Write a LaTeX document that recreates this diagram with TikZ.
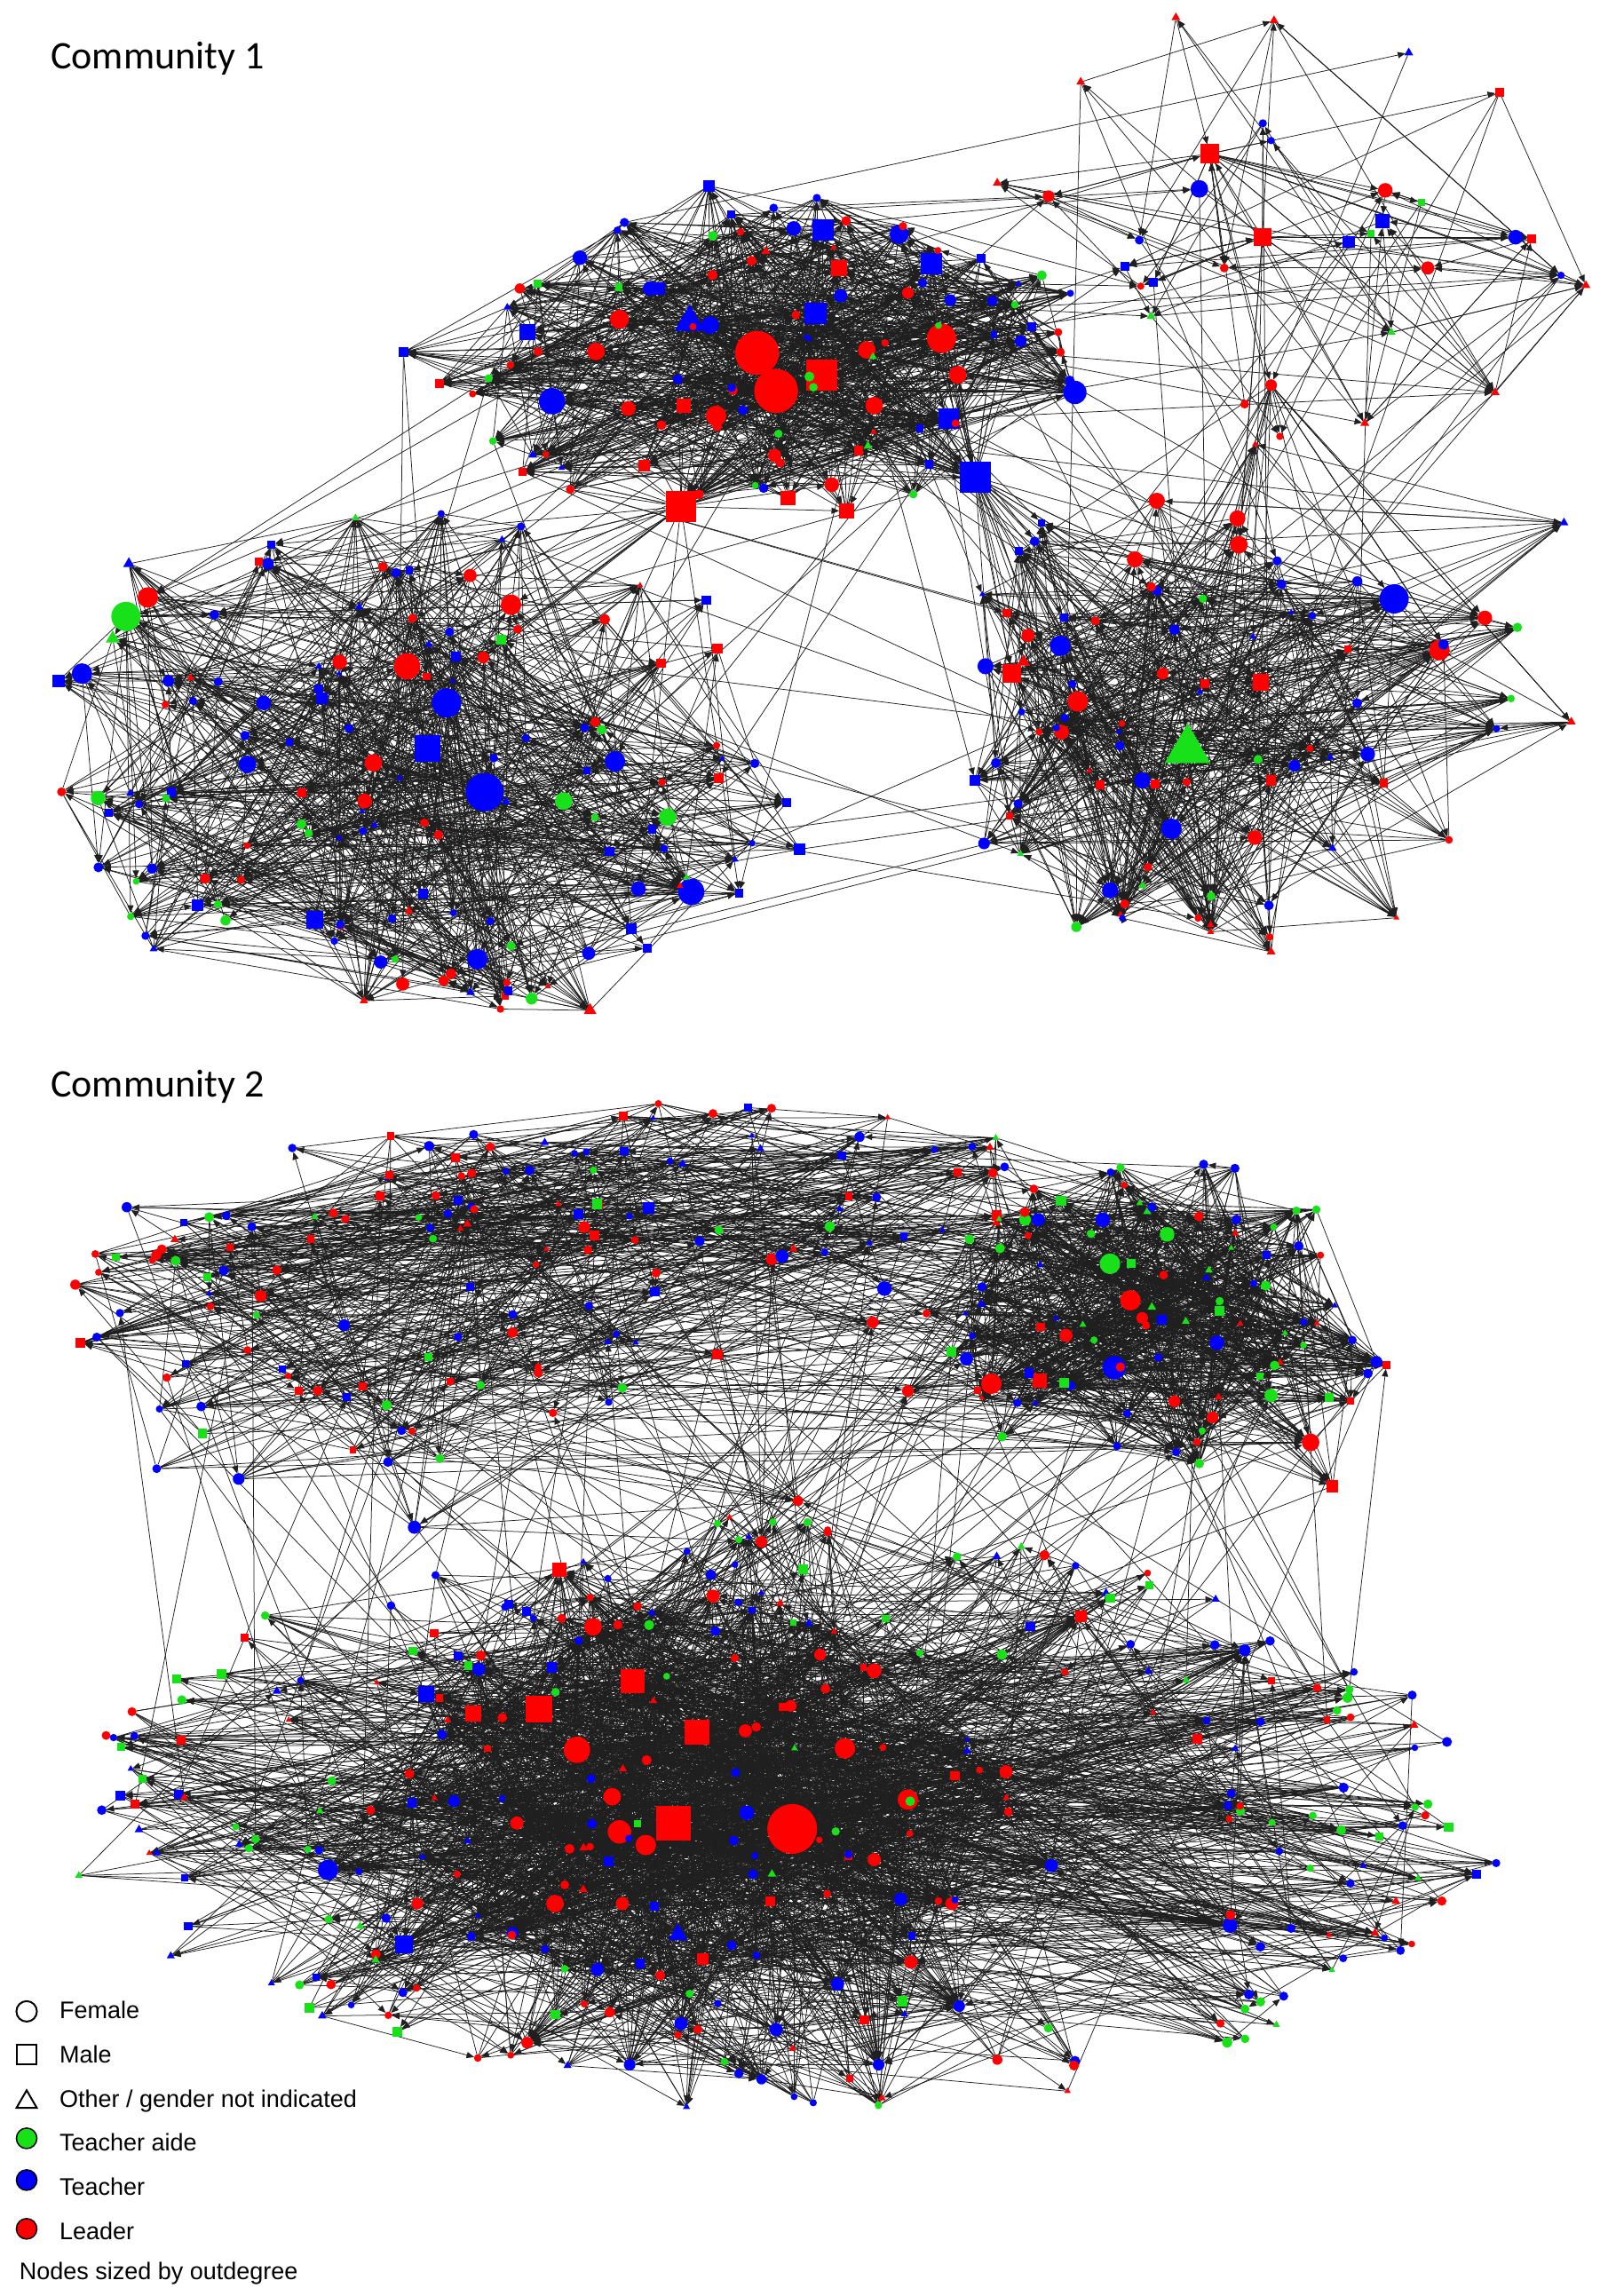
\documentclass[tikz,border=0pt]{standalone}
\usepackage{fontspec}
\setmainfont{Liberation Sans}
\newfontfamily\carlfont{Carlito}
\usetikzlibrary{shapes.geometric,arrows.meta}
\definecolor{nred}{RGB}{255,0,0}
\definecolor{nblue}{RGB}{0,0,255}
\definecolor{ngreen}{RGB}{25,225,25}
\pgfdeclarelayer{fg}
\pgfsetlayers{main,fg}
\pgfmathdeclarerandomlist{shapes}{{shc}{shc}{shc}{shc}{shc}{shs}{shs}{sht}{sht}}
\pgfmathdeclarerandomlist{colT}{{nred}{nred}{nred}{nblue}{nblue}{nblue}{nred}{ngreen}}
\pgfmathdeclarerandomlist{colR}{{nred}{nred}{nred}{nblue}{nblue}{ngreen}}
\pgfmathdeclarerandomlist{colL}{{nblue}{nblue}{nblue}{nblue}{nred}{nred}{ngreen}{ngreen}}
\pgfmathdeclarerandomlist{colD}{{nred}{nred}{nblue}{nblue}{nblue}{nred}{ngreen}}
\pgfmathdeclarerandomlist{colU}{{nblue}{nblue}{nred}{nred}{nred}{ngreen}{nblue}}
\pgfmathdeclarerandomlist{colS}{{nred}{nred}{nblue}{nblue}{ngreen}{ngreen}}
\pgfmathdeclarerandomlist{colB}{{nred}{nred}{nred}{nred}{nblue}{nblue}{nblue}{ngreen}}
\pgfmathdeclarerandomlist{colO}{{nblue}{nblue}{nblue}{nred}{nred}{ngreen}{ngreen}}
\tikzset{
  nd/.style={inner sep=0pt,outer sep=0pt,draw=none},
  shc/.style={shape=circle},
  shs/.style={shape=rectangle},
  sht/.style={shape=regular polygon,regular polygon sides=3},
  ed/.style={-{Triangle[length=8.5pt,width=7pt]}},
  edgescope/.style={color=black!88,line width=0.75pt},
  lgsym/.style={draw=black,line width=2pt,inner sep=0pt,minimum size=14*1.649pt},
  lgtxt/.style={anchor=base west,inner sep=0pt,font=\fontsize{27}{32}\selectfont},
  ctitle/.style={anchor=base west,inner sep=0pt,font=\carlfont\fontsize{44}{52}\selectfont},
}
\newcommand\gnode[6]{\node[nd,#5,fill=#6,minimum size=#4*1.649pt] (#1) at (#2,#3) {};}
\newcommand\rndnodes[9]{%
  \foreach \i in {#2,...,#3}{%
    \pgfmathsetmacro\ang{rnd*360}%
    \pgfmathsetmacro\rr{sqrt(#8*#8+(1-#8*#8)*rnd)}%
    \pgfmathsetmacro\px{#4+#6*\rr*cos(\ang)}%
    \pgfmathsetmacro\py{#5+#7*\rr*sin(\ang)}%
    \pgfmathsetmacro\sz{4.5+2.5*rnd}%
    \pgfmathrandomitem{\fc}{#9}%
    \pgfmathrandomitem{\shp}{shapes}%
    \edef\doit{\noexpand\node[nd,\shp,fill=\fc,minimum size=\sz*1.649pt] (#1\i) at (\px,\py) {};}%
    \doit
  }}
% arrowed edges, each its own path
\newcommand\rndedges[7]{%
  \foreach \k in {1,...,#1}{%
    \pgfmathrandominteger\ea{#3}{#4}%
    \pgfmathrandominteger\eb{#6}{#7}%
    \edef\na{#2\ea}\edef\nb{#5\eb}%
    \ifx\na\nb\else\draw[ed] (\na) -- (\nb);\fi
  }}
\newcommand\hubfan[5]{%
  \foreach \k in {1,...,#2}{%
    \pgfmathrandominteger\ea{#4}{#5}%
    \edef\na{#3\ea}\edef\nh{#1}%
    \ifx\na\nh\else\draw[ed] (\nh) -- (\na);\fi
  }}
% plain edges inside one pool, one path
\newcommand\plainself[4]{%
  \draw foreach \k [evaluate=\k as \ea using {int(random(#3,#4))},
                    evaluate=\k as \eb using {int(#3+mod(\ea-#3+random(1,#4-#3),#4-#3+1))}]
        in {1,...,#1} { (#2\ea) -- (#2\eb) };}
% plain edges between two disjoint pools, one path
\newcommand\plaincross[7]{%
  \draw foreach \k [evaluate=\k as \ea using {int(random(#3,#4))},
                    evaluate=\k as \eb using {int(random(#6,#7))}]
        in {1,...,#1} { (#2\ea) -- (#5\eb) };}
\begin{document}
\begin{tikzpicture}[x=1.649pt,y=-1.649pt]
\pgfmathsetseed{20240}
\fill[white] (0,0) rectangle (1098,1568);
\useasboundingbox (0,0) rectangle (1098,1568);

\begin{pgfonlayer}{fg}
% ===== Community 1: top cluster =====
\gnode{t1}{517}{241}{30}{shc}{nred}
\gnode{t2}{530}{267}{30}{shc}{nred}
\gnode{t3}{561}{256}{21}{shs}{nred}
\gnode{t4}{643}{231}{20}{shc}{nred}
\gnode{t5}{471}{220}{24}{sht}{nblue}
\gnode{t6}{485}{222}{12}{shc}{nblue}
\gnode{t7}{557}{214}{15}{shs}{nblue}
\gnode{t8}{562}{157}{15}{shs}{nblue}
\gnode{t9}{614}{160}{13}{shc}{nblue}
\gnode{t10}{636}{180}{15}{shs}{nblue}
\gnode{t11}{573}{183}{11}{shs}{nred}
\gnode{t12}{377}{274}{18}{shc}{nblue}
\gnode{t13}{734}{268}{16}{shc}{nblue}
\gnode{t14}{648}{286}{14}{shs}{nblue}
\gnode{t15}{423}{218}{13}{shc}{nred}
\gnode{t16}{407}{240}{12}{shc}{nred}
\gnode{t17}{465}{346}{21}{shs}{nred}
\gnode{t18}{666}{326}{21}{shs}{nblue}
\gnode{t19}{538}{340}{10}{shs}{nred}
\gnode{t20}{578}{349}{10}{shs}{nred}
\gnode{t21}{568}{331}{10}{shc}{nred}
\gnode{t22}{489}{284}{14}{shc}{nred}
\gnode{t23}{592}{239}{12}{shc}{nred}
\gnode{t24}{597}{277}{12}{shc}{nred}
\gnode{t25}{396}{176}{10}{shc}{nblue}
\gnode{t26}{444}{197}{10}{shc}{nblue}
\gnode{t27}{360}{227}{11}{shs}{nblue}
\gnode{t28}{542}{156}{10}{shc}{nblue}
\gnode{t29}{654}{256}{12}{shc}{nred}
\gnode{t30}{467}{277}{10}{shs}{nred}
\gnode{t31}{429}{279}{10}{shc}{nred}
\gnode{t32}{529}{311}{9}{shc}{nred}
\gnode{t33}{574}{202}{9}{shc}{nblue}
\gnode{t34}{440}{318}{8}{shs}{nred}
\gnode{t35}{450}{197}{8}{shs}{nblue}
\gnode{t36}{620}{200}{8}{shc}{nred}
\gnode{t37}{649}{205}{8}{shc}{nblue}
\gnode{t38}{484}{127}{8}{shs}{nblue}
\gnode{t39}{355}{197}{7}{shc}{nred}
\gnode{t40}{697}{233}{8}{shc}{nblue}
\rndnodes{t}{41}{110}{515}{243}{240}{112}{0}{colT}
% ===== Community 1: right top =====
\gnode{r1}{826}{105}{13}{shs}{nred}
\gnode{r2}{819}{129}{12}{shc}{nblue}
\gnode{r3}{862}{162}{12}{shs}{nred}
\gnode{r4}{946}{130}{10}{shc}{nred}
\gnode{r5}{944}{151}{10}{shs}{nblue}
\gnode{r6}{1035}{162}{10}{shc}{nblue}
\gnode{r7}{1046}{163}{6}{shs}{nred}
\gnode{r8}{975}{183}{9}{shc}{nred}
\gnode{r9}{921}{165}{8}{shs}{nblue}
\gnode{r10}{836}{183}{6}{shc}{nred}
\gnode{r11}{716}{134}{8}{shc}{nred}
\gnode{r12}{681}{125}{7}{sht}{nred}
\gnode{r13}{803}{12}{7}{sht}{nred}
\gnode{r14}{870}{14}{7}{sht}{nred}
\gnode{r15}{962}{36}{7}{sht}{nblue}
\gnode{r16}{1024}{63}{6}{shs}{nred}
\gnode{r17}{738}{56}{7}{sht}{nred}
\gnode{r18}{868}{96}{5}{shc}{nblue}
\gnode{r19}{1066}{188}{5}{shc}{nblue}
\gnode{r20}{1083}{195}{7}{sht}{nred}
\gnode{r21}{868}{263}{8}{shc}{nred}
\gnode{r22}{850}{276}{6}{shc}{nred}
\gnode{r23}{932}{289}{7}{sht}{nred}
\gnode{r24}{1021}{268}{7}{sht}{nred}
\gnode{r25}{874}{298}{5}{shc}{nred}
\gnode{r26}{778}{164}{6}{shc}{nblue}
\gnode{r27}{768}{182}{6}{shs}{nblue}
\gnode{r28}{786}{216}{7}{sht}{ngreen}
\rndnodes{r}{29}{34}{905}{170}{150}{100}{0}{colR}
% ===== Community 1: right lower =====
\gnode{d1}{952}{409}{20}{shc}{nblue}
\gnode{d2}{983}{444}{14}{shc}{nred}
\gnode{d3}{811}{512}{36}{sht}{ngreen}
\gnode{d4}{724}{441}{14}{shc}{nblue}
\gnode{d5}{691}{460}{13}{shs}{nred}
\gnode{d6}{736}{479}{14}{shc}{nred}
\gnode{d7}{845}{354}{11}{shc}{nred}
\gnode{d8}{846}{372}{12}{shc}{nred}
\gnode{d9}{790}{342}{11}{shc}{nred}
\gnode{d10}{775}{382}{11}{shc}{nred}
\gnode{d11}{861}{466}{11}{shs}{nred}
\gnode{d12}{800}{566}{14}{shc}{nblue}
\gnode{d13}{780}{533}{11}{shc}{nblue}
\gnode{d14}{725}{500}{10}{shc}{nred}
\gnode{d15}{758}{608}{11}{shc}{nblue}
\gnode{d16}{857}{572}{10}{shc}{nred}
\gnode{d17}{672}{576}{8}{shc}{nblue}
\gnode{d18}{1014}{422}{10}{shc}{nred}
\gnode{d19}{673}{455}{11}{shc}{nblue}
\gnode{d20}{702}{434}{9}{shc}{nred}
\gnode{d21}{794}{460}{8}{shc}{nred}
\gnode{d22}{699}{452}{10}{sht}{nred}
\gnode{d23}{934}{515}{10}{shc}{nblue}
\gnode{d24}{884}{523}{8}{shc}{nblue}
\gnode{d25}{827}{612}{6}{shc}{ngreen}
\gnode{d26}{735}{633}{7}{shc}{ngreen}
\gnode{d27}{868}{650}{7}{sht}{nred}
\gnode{d28}{868}{533}{7}{shs}{nred}
\gnode{d29}{945}{535}{6}{shs}{nred}
\gnode{d30}{1073}{493}{7}{sht}{nred}
\gnode{d31}{1068}{357}{7}{sht}{nblue}
\gnode{d32}{802}{430}{7}{shc}{nblue}
\gnode{d33}{748}{424}{6}{shc}{nred}
\rndnodes{d}{34}{90}{850}{480}{205}{178}{0}{colD}
% ===== Community 1: left =====
\gnode{l1}{331}{541}{26}{shc}{nblue}
\gnode{l2}{305}{480}{20}{shc}{nblue}
\gnode{l3}{292}{511}{18}{shs}{nblue}
\gnode{l4}{278}{455}{18}{shc}{nred}
\gnode{l5}{86}{421}{20}{shc}{ngreen}
\gnode{l6}{101}{408}{14}{shc}{nred}
\gnode{l7}{56}{460}{14}{shc}{nblue}
\gnode{l8}{169}{522}{12}{shc}{nblue}
\gnode{l9}{420}{520}{14}{shc}{nblue}
\gnode{l10}{385}{547}{12}{shc}{ngreen}
\gnode{l11}{456}{558}{12}{shc}{ngreen}
\gnode{l12}{472}{609}{18}{shc}{nblue}
\gnode{l13}{436}{607}{10}{shc}{nblue}
\gnode{l14}{326}{655}{14}{shc}{nblue}
\gnode{l15}{349}{413}{14}{shc}{nred}
\gnode{l16}{255}{521}{12}{shc}{nred}
\gnode{l17}{215}{628}{12}{shs}{nblue}
\gnode{l18}{67}{545}{10}{shc}{ngreen}
\gnode{l19}{546}{580}{8}{shs}{nblue}
\gnode{l20}{180}{480}{10}{shc}{nblue}
\gnode{l21}{232}{452}{10}{shc}{nred}
\gnode{l22}{321}{393}{9}{shc}{nred}
\gnode{l23}{249}{547}{10}{shc}{nred}
\gnode{l24}{260}{657}{9}{shc}{nblue}
\gnode{l25}{275}{672}{9}{shc}{nred}
\gnode{l26}{402}{651}{9}{shc}{nblue}
\gnode{l27}{363}{682}{8}{shc}{ngreen}
\gnode{l28}{403}{690}{10}{sht}{nred}
\gnode{l29}{330}{449}{8}{shc}{nred}
\gnode{l30}{490}{443}{7}{shs}{nred}
\gnode{l31}{413}{423}{7}{shc}{nred}
\gnode{l32}{115}{465}{8}{shc}{nblue}
\gnode{l33}{40}{465}{8}{shs}{nblue}
\gnode{l34}{135}{618}{8}{shs}{nblue}
\gnode{l35}{140}{600}{7}{shc}{nred}
\gnode{l36}{88}{385}{9}{sht}{nblue}
\gnode{l37}{183}{385}{8}{shc}{nblue}
\gnode{l38}{220}{477}{8}{shs}{nblue}
\gnode{l39}{77}{436}{11}{sht}{ngreen}
\gnode{l40}{308}{665}{7}{shc}{nred}
\rndnodes{l}{41}{140}{290}{528}{258}{178}{0}{colL}
% ===== Community 2: upper =====
\gnode{u1}{604}{880}{10}{shc}{nblue}
\gnode{u2}{527}{860}{8}{shc}{nred}
\gnode{u3}{443}{825}{8}{shs}{nblue}
\gnode{u4}{399}{838}{8}{shc}{nred}
\gnode{u5}{534}{858}{9}{shc}{nblue}
\gnode{u6}{596}{903}{8}{shc}{nred}
\gnode{u7}{163}{1010}{8}{shc}{nblue}
\gnode{u8}{283}{1043}{9}{shc}{nblue}
\gnode{u9}{545}{1025}{7}{shc}{nred}
\gnode{u10}{520}{1053}{8}{shc}{nred}
\gnode{u11}{178}{885}{8}{shc}{nred}
\gnode{u12}{107}{1003}{6}{shc}{nblue}
\gnode{u13}{235}{905}{8}{shc}{nblue}
\gnode{u14}{350}{910}{7}{shc}{nred}
\gnode{u15}{490}{925}{7}{shs}{nred}
\rndnodes{u}{16}{95}{250}{890}{205}{115}{0.35}{colU}
\rndnodes{u}{96}{150}{485}{805}{235}{55}{0.2}{colU}
% ===== Community 2: top right =====
\gnode{s1}{761}{934}{16}{shc}{nblue}
\gnode{s2}{758}{863}{14}{shc}{ngreen}
\gnode{s3}{772}{888}{14}{shc}{nred}
\gnode{s4}{677}{945}{14}{shc}{nred}
\gnode{s5}{895}{985}{12}{shc}{nred}
\gnode{s6}{753}{833}{10}{shc}{nblue}
\gnode{s7}{831}{917}{10}{shc}{nblue}
\gnode{s8}{797}{843}{10}{shc}{ngreen}
\gnode{s9}{868}{953}{9}{shc}{ngreen}
\gnode{s10}{710}{943}{10}{shs}{nred}
\gnode{s11}{728}{912}{9}{shc}{nred}
\gnode{s12}{660}{928}{9}{shc}{nblue}
\gnode{s13}{802}{957}{8}{shc}{nred}
\gnode{s14}{709}{833}{9}{shc}{nblue}
\gnode{s15}{828}{968}{8}{shc}{nred}
\gnode{s16}{910}{1015}{8}{shs}{nred}
\gnode{s17}{700}{833}{8}{shc}{ngreen}
\gnode{s18}{780}{900}{8}{shc}{nred}
\gnode{s19}{620}{950}{8}{shc}{nred}
\gnode{s20}{940}{930}{8}{shc}{nblue}
\rndnodes{s}{21}{100}{800}{900}{168}{112}{0}{colS}
% ===== Community 2: lower =====
\gnode{b1}{541}{1249}{34}{shc}{nred}
\gnode{b2}{460}{1245}{24}{shs}{nred}
\gnode{b3}{476}{1183}{17}{shs}{nred}
\gnode{b4}{368}{1167}{18}{shs}{nred}
\gnode{b5}{432}{1148}{16}{shs}{nred}
\gnode{b6}{394}{1195}{18}{shc}{nred}
\gnode{b7}{423}{1251}{16}{shc}{nred}
\gnode{b8}{441}{1260}{14}{shc}{nred}
\gnode{b9}{577}{1194}{14}{shc}{nred}
\gnode{b10}{620}{1229}{14}{shc}{nred}
\gnode{b11}{418}{1227}{12}{shc}{nred}
\gnode{b12}{379}{1300}{12}{shc}{nred}
\gnode{b13}{405}{1111}{12}{shc}{nred}
\gnode{b14}{323}{1170}{11}{shs}{nred}
\gnode{b15}{382}{1072}{10}{shs}{nred}
\gnode{b16}{463}{1321}{15}{sht}{nblue}
\gnode{b17}{224}{1277}{14}{shc}{nblue}
\gnode{b18}{276}{1328}{12}{shs}{nblue}
\gnode{b19}{291}{1157}{11}{shs}{nblue}
\gnode{b20}{510}{1238}{10}{shc}{nblue}
\gnode{b21}{597}{1141}{10}{shc}{nred}
\gnode{b22}{540}{1165}{8}{shc}{nred}
\gnode{b23}{509}{1182}{9}{shc}{nred}
\gnode{b24}{840}{1315}{10}{shc}{nblue}
\gnode{b25}{425}{1300}{9}{shc}{nred}
\gnode{b26}{622}{1340}{9}{shc}{nred}
\gnode{b27}{327}{1140}{9}{shc}{nblue}
\gnode{b28}{487}{1090}{9}{shc}{nred}
\gnode{b29}{560}{1130}{8}{shc}{nred}
\gnode{b30}{408}{1345}{9}{shc}{nblue}
\gnode{b31}{465}{1382}{9}{shc}{nblue}
\gnode{b32}{530}{1386}{9}{shc}{nblue}
\gnode{b33}{572}{1355}{9}{shc}{nblue}
\gnode{b34}{718}{1274}{9}{shc}{nblue}
\gnode{b35}{738}{1104}{8}{shs}{nred}
\gnode{b36}{850}{1127}{8}{shc}{nblue}
\gnode{b37}{480}{1338}{8}{shs}{nred}
\gnode{b38}{615}{1297}{9}{shc}{nblue}
\gnode{b39}{650}{1300}{9}{shc}{nred}
\gnode{b40}{687}{1210}{9}{shc}{nred}
\gnode{b41}{353}{1245}{9}{shc}{nred}
\gnode{b42}{597}{1270}{9}{shc}{nred}
\gnode{b43}{350}{1320}{8}{shc}{nblue}
\gnode{b44}{285}{1300}{8}{shc}{nred}
\gnode{b45}{310}{1230}{8}{shc}{nblue}
\gnode{b46}{655}{1370}{8}{shc}{nblue}
\gnode{b47}{600}{1410}{8}{shc}{nblue}
\gnode{b48}{520}{1420}{7}{shc}{nblue}
\gnode{b49}{430}{1410}{8}{shc}{nblue}
\gnode{b50}{360}{1395}{8}{shc}{nred}
\rndnodes{b}{51}{130}{470}{1220}{230}{140}{0}{colB}
\rndnodes{b}{131}{320}{535}{1240}{495}{205}{0.6}{colO}
\end{pgfonlayer}

\begin{scope}[edgescope]
% ===== edges: community 1 =====
\plainself{700}{t}{1}{110}
\rndedges{260}{t}{1}{110}{t}{1}{110}
\hubfan{t1}{30}{t}{1}{110}
\hubfan{t2}{30}{t}{1}{110}
\hubfan{t3}{25}{t}{1}{110}
\hubfan{t4}{20}{t}{1}{110}
\hubfan{t5}{20}{t}{1}{110}
\hubfan{t17}{25}{t}{1}{110}
\hubfan{t18}{25}{t}{1}{110}
\hubfan{t12}{15}{t}{1}{110}
\hubfan{t13}{15}{t}{1}{110}
\hubfan{t7}{10}{t}{1}{110}
\hubfan{t10}{10}{t}{1}{110}
\hubfan{t8}{10}{t}{1}{110}
\hubfan{t18}{20}{d}{1}{90}
\hubfan{t17}{12}{l}{1}{140}
\rndedges{70}{r}{1}{34}{r}{1}{34}
\hubfan{r1}{20}{r}{1}{34}
\hubfan{r3}{18}{r}{1}{34}
\hubfan{r21}{18}{d}{1}{90}
\plainself{420}{d}{1}{90}
\rndedges{220}{d}{1}{90}{d}{1}{90}
\hubfan{d1}{25}{d}{1}{90}
\hubfan{d3}{30}{d}{1}{90}
\hubfan{d4}{15}{d}{1}{90}
\hubfan{d5}{15}{d}{1}{90}
\hubfan{d6}{12}{d}{1}{90}
\hubfan{d12}{12}{d}{1}{90}
\hubfan{d2}{12}{d}{1}{90}
\plainself{520}{l}{1}{140}
\rndedges{270}{l}{1}{140}{l}{1}{140}
\hubfan{l1}{30}{l}{1}{140}
\hubfan{l2}{25}{l}{1}{140}
\hubfan{l3}{20}{l}{1}{140}
\hubfan{l4}{20}{l}{1}{140}
\hubfan{l5}{20}{l}{1}{140}
\hubfan{l12}{15}{l}{1}{140}
\hubfan{l9}{12}{l}{1}{140}
\hubfan{l14}{12}{l}{1}{140}
\rndedges{22}{t}{1}{110}{l}{1}{140}
\rndedges{22}{t}{1}{110}{d}{1}{90}
\rndedges{18}{t}{1}{110}{r}{1}{34}
\rndedges{10}{l}{1}{140}{d}{1}{90}
\rndedges{20}{r}{1}{34}{d}{1}{90}
% ===== edges: community 2 =====
\plainself{430}{u}{1}{150}
\rndedges{210}{u}{1}{150}{u}{1}{150}
\plainself{700}{s}{1}{100}
\rndedges{240}{s}{1}{100}{s}{1}{100}
\hubfan{s1}{25}{s}{1}{100}
\hubfan{s3}{20}{s}{1}{100}
\hubfan{s2}{15}{s}{1}{100}
\hubfan{s4}{15}{s}{1}{100}
\plaincross{80}{u}{1}{150}{s}{1}{100}
\rndedges{60}{u}{1}{150}{s}{1}{100}
\plainself{1200}{b}{1}{130}
\rndedges{100}{b}{1}{130}{b}{1}{130}
\plaincross{650}{b}{131}{320}{b}{1}{130}
\rndedges{380}{b}{131}{320}{b}{1}{130}
\rndedges{130}{b}{131}{320}{b}{131}{320}
\hubfan{b1}{40}{b}{1}{320}
\hubfan{b2}{35}{b}{1}{320}
\hubfan{b3}{25}{b}{1}{320}
\hubfan{b4}{25}{b}{1}{320}
\hubfan{b5}{20}{b}{1}{320}
\hubfan{b6}{20}{b}{1}{320}
\hubfan{b7}{20}{b}{1}{320}
\hubfan{b9}{20}{b}{1}{320}
\hubfan{b10}{15}{b}{1}{320}
\plaincross{30}{b}{1}{320}{u}{1}{150}
\rndedges{35}{b}{1}{320}{u}{1}{150}
\plaincross{25}{b}{1}{320}{s}{1}{100}
\rndedges{30}{b}{1}{320}{s}{1}{100}
\end{scope}

% ===== titles =====
\node[ctitle] (c1) at (34.6,46.7) {Community 1};
\node[ctitle] (c2) at (34.6,749) {Community 2};

% ===== legend =====
\node[lgsym,circle] (lg1) at (18.2,1373.6) {};
\node[lgsym,rectangle,minimum size=13.5*1.649pt] (lg2) at (18.2,1402.9) {};
\node[lgsym,regular polygon,regular polygon sides=3,minimum size=16*1.649pt] (lg3) at (18.2,1435.5) {};
\node[lgsym,circle,fill=ngreen,line width=1.5pt] (lg4) at (18.2,1460.3) {};
\node[lgsym,circle,fill=nblue,line width=1.5pt] (lg5) at (18.2,1488.8) {};
\node[lgsym,circle,fill=nred,line width=1.5pt] (lg6) at (18.2,1522.1) {};
\node[lgtxt] (lt1) at (40.6,1378.5) {Female};
\node[lgtxt] (lt2) at (40.6,1408.7) {Male};
\node[lgtxt] (lt3) at (40.6,1439.1) {Other / gender not indicated};
\node[lgtxt] (lt4) at (40.6,1468.8) {Teacher aide};
\node[lgtxt] (lt5) at (40.6,1499.1) {Teacher};
\node[lgtxt] (lt6) at (40.6,1529.5) {Leader};
\node[lgtxt] (lt7) at (13.1,1556.7) {Nodes sized by outdegree};
\end{tikzpicture}
\end{document}
